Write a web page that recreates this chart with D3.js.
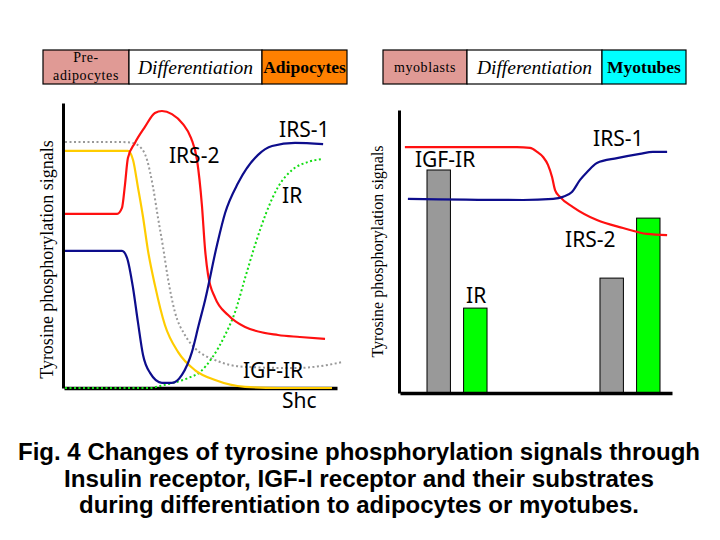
<!DOCTYPE html>
<html><head><meta charset="utf-8">
<script src="https://cdn.jsdelivr.net/npm/d3@7"></script>
<style>body{margin:0;background:#fff}svg{display:block}</style>
</head><body>
<svg id="c" width="720" height="540"></svg>
<script>
// ---------- DATA ----------
// Adipocyte panel: time course (x: 0-100 differentiation progress, y: relative signal 0-100)
const adipoIRS2 = [[0,61.1],[19.3,61.1],[21.1,63.2],[22.2,71.2],[23.3,80.7],[25.9,86],[29.6,91.6],[33.3,96.5],[35.9,97.2],[39.6,96.1],[43.7,92.6],[46.7,87.7],[48.9,80],[50.7,64.2],[51.9,48.4],[53,39.6],[55.6,31.6],[60.4,25.6],[66.7,21.4],[78.9,18.6],[87,17.9],[96.3,17.2]];
const adipoIRS1 = [[0,48.1],[21.1,48.1],[23,45.6],[25.2,35.1],[27,23.2],[28.9,11.6],[31.5,5.3],[35.9,1.8],[39.6,1.8],[43.3,4.6],[47,12.6],[49.5,22],[51.9,30.9],[56.3,50.2],[59.3,61.4],[64.1,71.9],[71.5,81.8],[76.7,84.9],[85.2,86],[95.6,85.6]];
const adipoShc  = [[0,83.2],[23.3,83.2],[25.2,80],[27,70.5],[28.9,60],[30.7,48.4],[33.3,36.1],[37,22.1],[41.9,12.6],[48.1,6.3],[55.6,2.8],[66.7,0.4],[78.9,0],[98.9,0]];
const adipoIGFIR = [[0,86.3],[21.1,86.3],[24.8,86],[27.8,84.6],[30.4,80],[32.6,70.5],[34.4,60],[36.3,49.5],[38.1,38.6],[40.7,26.7],[44.4,18.6],[48.1,14],[55.6,9.8],[66.7,7.4],[85.2,7],[97.4,8.1],[102.6,9.1]];
const adipoIR = [[0,0],[30.7,0],[37,1.1],[45.6,3.5],[50,5.6],[54.4,10.5],[59.3,18.6],[63,26.7],[66.7,38.6],[70.5,50.5],[74.5,61.4],[78.9,70.5],[84.1,76.5],[90,79.3],[95.6,80.4]];
const adipoLabels = [["IRS-2",38.5,79],["IRS-1",79.3,88.1],["IR",80.4,64.9],["IGF-IR",65.9,3.5],["Shc",80.4,-7]];

// Myotube panel
const myoIRS2 = [[1.8,86.9],[43,86.9],[47.8,86.6],[50.4,85.2],[52.6,83.4],[54.4,80.6],[55.9,76.3],[57,71.7],[58.8,69.3],[63.6,65.7],[72.4,61.1],[82,58.3],[90.8,56.2],[98.2,55.8]];
const myoIRS1 = [[2.9,68.6],[45.2,68.2],[56.3,68.6],[59.9,69.3],[63.2,71],[66.2,75.3],[68.8,78.1],[72.4,81.3],[79.8,83],[88.2,84.5],[93,85.2],[98.2,85.2]];
const myoStages = ["myoblasts","myotubes"];
const myoReceptors = ["IGF-IR","IR"];
const myoBarIGFIR = [78.8, 40.6];
const myoBarIR = [30.0, 61.8];
const myoLabels = [["IGF-IR",5.5,79.9],["IR",24.3,31.8],["IRS-1",71,87.3],["IRS-2",60.7,51.6]];

// Header stage boxes
const adipoHeader = [["Pre-|adipocytes","#e09a95","normal","normal",14],["Differentiation","#ffffff","italic","normal",19.5],["Adipocytes","#ff8000","normal","bold",17.5]];
const myoHeader = [["myoblasts","#e09a95","normal","normal",14],["Differentiation","#ffffff","italic","normal",19.5],["Myotubes","#00ffff","normal","bold",17.5]];
const yTitle = "Tyrosine phosphorylation signals";
const caption = ["Fig. 4 Changes of tyrosine phosphorylation signals through","Insulin receptor, IGF-I receptor and their substrates","during differentiation to adipocytes or myotubes."];

// ---------- DRAW ----------
const svg = d3.select("#c");
svg.append("rect").attr("width",720).attr("height",540).attr("fill","#fff");
const COL = {red:"#ff1010", blue:"#0d0d8c", yellow:"#ffcc00", grey:"#999999", green:"#11dd11", barGrey:"#999999", barGreen:"#00ff00"};
const labelFont = "'Noto Sans', 'DejaVu Sans', sans-serif";
const serif = "'Liberation Serif', 'Times New Roman', serif";

function header(x0, widths, y0, h, items){
  let x = x0;
  items.forEach((it,i)=>{
    const w = widths[i];
    svg.append("rect").attr("x",x).attr("y",y0).attr("width",w).attr("height",h)
      .attr("fill",it[1]).attr("stroke","#000").attr("stroke-width",1.2);
    const lines = it[0].split("|");
    const t = svg.append("text").attr("x",x+w/2).attr("text-anchor","middle")
      .attr("font-family",serif).attr("font-style",it[2]).attr("font-weight",it[3])
      .attr("font-size",it[4]).attr("fill","#000");
    if(lines.length===1){ t.attr("y",y0+h/2).attr("dy","0.35em").text(lines[0]);
      if(it[4]<15) t.attr("letter-spacing",0.6); }
    else { lines.forEach((l,j)=>t.append("tspan").attr("x",x+w/2).attr("y",y0+12+j*18).attr("letter-spacing",0.6).text(l)); }
    x += w;
  });
}
header(43,[86,133,85],50,34,adipoHeader);
header(383,[84,135,84],50,34,myoHeader);

// Left panel
const xL = d3.scaleLinear().domain([0,100]).range([65,335]);
const yL = d3.scaleLinear().domain([0,100]).range([388,103]);
const lineL = d3.line().x(d=>xL(d[0])).y(d=>yL(d[1])).curve(d3.curveMonotoneX);
const gL = svg.append("g");

function drawAxes(g,x,y){
  const ax = g.append("g").attr("transform",`translate(0,${y.range()[0]})`)
    .call(d3.axisBottom(x).tickValues([]).tickSizeOuter(0));
  ax.select(".domain").attr("stroke","#000").attr("stroke-width",3.5);
  const ay = g.append("g").attr("transform",`translate(${x.range()[0]-1},0)`)
    .call(d3.axisLeft(y).tickValues([]).tickSizeOuter(0));
  ay.select(".domain").attr("stroke","#000").attr("stroke-width",3);
}
drawAxes(gL,xL.copy().range([64,337]),yL);

function path(g,data,line,color,dash){
  const p = g.append("path").datum(data).attr("d",line).attr("fill","none")
    .attr("stroke",color).attr("stroke-width",2.2).attr("stroke-linejoin","round");
  if(dash) p.attr("stroke-dasharray",dash).attr("stroke-width",2);
}
path(gL,adipoIGFIR,lineL,COL.grey,"2,2.5");
path(gL,adipoIR,lineL,COL.green,"2,2.5");
path(gL,adipoShc,lineL,COL.yellow);
path(gL,adipoIRS2,lineL,COL.red);
path(gL,adipoIRS1,lineL,COL.blue);

gL.selectAll("text.lab").data(adipoLabels).join("text").attr("class","lab")
  .attr("x",d=>xL(d[1])).attr("y",d=>yL(d[2])).text(d=>d[0])
  .attr("font-family",labelFont).attr("font-size",21).attr("fill","#000");

svg.append("text").attr("transform",`translate(53,${(yL(0)+yL(100))/2+14}) rotate(-90)`)
  .attr("text-anchor","middle").attr("font-family",serif).attr("font-size",18).text(yTitle);

// Right panel
const xR = d3.scaleLinear().domain([0,100]).range([400,672]);
const yR = d3.scaleLinear().domain([0,100]).range([393,110]);
const lineR = d3.line().x(d=>xR(d[0])).y(d=>yR(d[1])).curve(d3.curveMonotoneX);
const gR = svg.append("g");
const xStage = d3.scaleBand().domain(myoStages).range([427,660]).paddingInner(0.653);
const xRec = d3.scaleBand().domain(myoReceptors).range([0,xStage.bandwidth()]).paddingInner(0.36);
const barData = [];
myoStages.forEach((s,i)=>{ barData.push({s,r:"IGF-IR",v:myoBarIGFIR[i]}); barData.push({s,r:"IR",v:myoBarIR[i]}); });
gR.selectAll("rect.bar").data(barData).join("rect").attr("class","bar")
  .attr("x",d=>xStage(d.s)+xRec(d.r)).attr("width",xRec.bandwidth())
  .attr("y",d=>yR(d.v)).attr("height",d=>yR(0)-yR(d.v))
  .attr("fill",d=>d.r==="IR"?COL.barGreen:COL.barGrey).attr("stroke","#000").attr("stroke-width",1);
drawAxes(gR,xR,yR);
path(gR,myoIRS2,lineR,COL.red);
path(gR,myoIRS1,lineR,COL.blue);
gR.selectAll("text.lab").data(myoLabels).join("text").attr("class","lab")
  .attr("x",d=>xR(d[1])).attr("y",d=>yR(d[2])).text(d=>d[0])
  .attr("font-family",labelFont).attr("font-size",21).attr("fill","#000");
svg.append("text").attr("transform",`translate(383,${(yR(0)+yR(100))/2}) rotate(-90)`)
  .attr("text-anchor","middle").attr("font-family",serif).attr("font-size",16).text(yTitle);

// Caption
const capW = [682,590,560];
caption.forEach((c,i)=>{
  svg.append("text").attr("x",359).attr("y",460+i*26.5).attr("text-anchor","middle")
    .attr("font-family","'Liberation Sans', Arial, sans-serif").attr("font-weight","bold")
    .attr("font-size",23).attr("textLength",capW[i]).attr("lengthAdjust","spacingAndGlyphs").text(c);
});
</script>
</body></html>
